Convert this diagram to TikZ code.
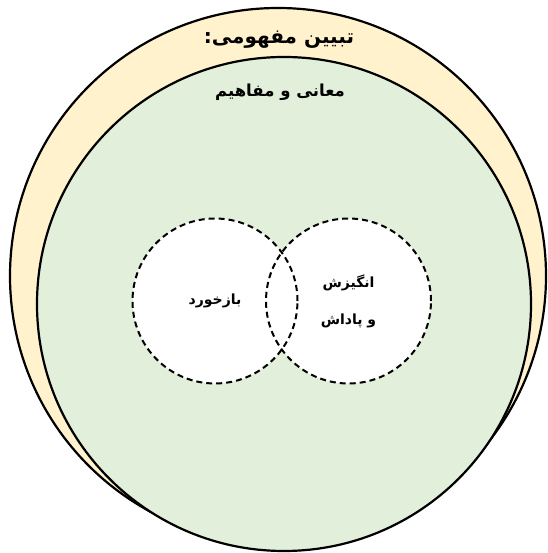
\documentclass[tikz,border=0pt]{standalone}
\usepackage{fontspec}
\usepackage{tikz}
\usetikzlibrary{positioning}
\TeXXeTstate=1
\newfontfamily\arabicfont[Script=Arabic]{DejaVu Sans}
\definecolor{frame}{HTML}{FFF2CC}
\definecolor{meaning}{HTML}{E2EFDA}
\tikzset{
  ring/.style    = {draw=black, line width=2.2pt},
  venn/.style    = {circle, draw=black, line width=2pt, dash pattern=on 6pt off 4pt,
                    minimum size=165pt, inner sep=0pt, align=center},
  label/.style   = {font=\arabicfont\bfseries, align=center, inner sep=1pt},
}
\begin{document}
\begin{tikzpicture}[x=1pt,y=1pt]
  \useasboundingbox (0,0) rectangle (547,553);
  \coordinate (oc) at (278,277);
  \coordinate (ic) at (284,249);
  \coordinate (lc) at (215,252);
  \coordinate (rc) at (348.5,252);
  % outer and inner circles
  \filldraw[ring, fill=frame] (oc) circle[radius=268pt];
  \filldraw[ring, fill=meaning] (ic) circle[radius=247pt];
  \node[label, font=\arabicfont\bfseries\fontsize{20}{24}\selectfont] (title) at (279,513)
    {\beginR تبیین مفهومی:\endR};
  \node[label, font=\arabicfont\bfseries\fontsize{16.5}{20}\selectfont] (sub) at (280,461)
    {\beginR معانی و مفاهیم\endR};
  % the two sets
  \fill[white] (lc) circle[radius=82.5pt] (rc) circle[radius=82.5pt];
  \node[venn, font=\arabicfont\bfseries\fontsize{14}{22}\selectfont] (feedback) at (lc)
    {\beginR بازخورد\endR};
  \node[venn, font=\arabicfont\bfseries\fontsize{14}{37}\selectfont] (reward) at (rc)
    {\beginR انگیزش\endR\\ \beginR و پاداش\endR};
\end{tikzpicture}
\end{document}
